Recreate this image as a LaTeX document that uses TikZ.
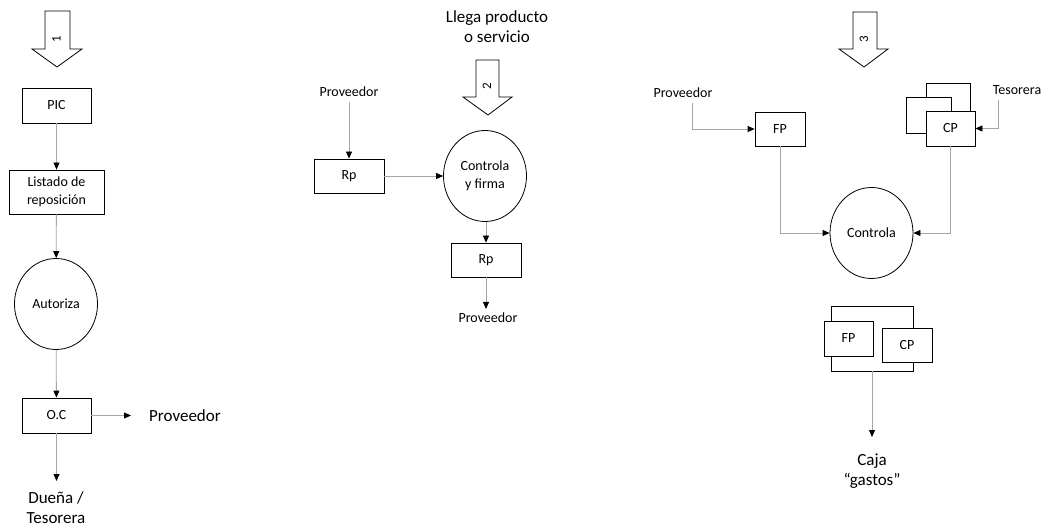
\documentclass[tikz,border=0pt]{standalone}
\usepackage{fontspec}
\setmainfont{Carlito}
\usetikzlibrary{arrows.meta,shapes.geometric}
\tikzset{
  small/.style={font=\fontsize{14}{18}\selectfont},
  large/.style={font=\fontsize{17}{20}\selectfont},
  box/.style={draw=black, line width=0.8pt, fill=white, rectangle, inner sep=0pt, small},
  oval/.style={draw=black, line width=0.8pt, fill=white, ellipse, inner sep=0pt,
    minimum width=83pt, minimum height=91pt, small, align=center},
  flow/.style={draw=black!35, line width=0.8pt,
    -{Triangle[length=7pt,width=6pt,color=black,fill=black]}},
  blockarrow/.style={draw=black, line width=0.8pt, fill=white, line join=miter},
  digit/.style={font=\fontsize{13}{13}\selectfont, rotate=90, inner sep=0pt},
  lbl/.style={inner sep=0pt, align=center}
}
\begin{document}
\begin{tikzpicture}[x=1pt,y=-1pt]
\useasboundingbox (0,0) rectangle (1046,526);

% ---------- Column 1: orden de compra ----------
\draw[blockarrow] (45,11) -- (70,11) -- (70,49) -- (82,49) -- (57,67) -- (32,49) -- (45,49) -- cycle;
\node[digit] (d1) at (56.5,39) {1};

\node[box, minimum width=69pt, minimum height=35pt] (pic) at (56.5,105.5) {PIC};
\node[box, minimum width=95pt, minimum height=44pt, align=center] (list) at (56.5,192) {Listado de\\reposición};
\node[oval] (aut) at (56,304) {Autoriza};
\node[box, minimum width=69pt, minimum height=35pt] (oc) at (56.5,415.5) {O.C};
\node[lbl, large, anchor=west] (prov1) at (149,416) {Proveedor};
\node[lbl, large, anchor=north] (duena) at (56,491) {Dueña /\\Tesorera};
\coordinate (oce) at (131,415.5);
\coordinate (ocs) at (56.5,481);

\draw[flow] (pic) -- (list);
\draw[flow] (list) -- (aut);
\draw[flow] (aut) -- (oc);
\draw[flow] (oc) -- (oce);
\draw[flow] (oc) -- (ocs);

% ---------- Column 2: recepcion ----------
\node[lbl, large] (llega) at (497,27) {Llega producto\\o servicio};
\draw[blockarrow] (476,60) -- (499,60) -- (499,97) -- (512,97) -- (488,115) -- (463,97) -- (476,97) -- cycle;
\node[digit] (d2) at (487,86) {2};

\node[lbl, small] (prov2) at (349,92) {Proveedor};
\node[box, minimum width=70pt, minimum height=34pt] (rp1) at (349,176) {Rp};
\node[oval] (cf) at (485,176) {Controla\\y firma};
\node[box, minimum width=70pt, minimum height=34pt] (rp2) at (486,260) {Rp};
\node[lbl, small] (prov3) at (488,318) {Proveedor};
\coordinate (p2top) at (349,102);
\coordinate (rp2s) at (486,309);

\draw[flow] (p2top) -- (rp1);
\draw[flow] (rp1) -- (cf);
\draw[flow] (cf.south -| rp2.north) -- (rp2);
\draw[flow] (rp2) -- (rp2s);

% ---------- Column 3: pago ----------
\draw[blockarrow] (853,12) -- (877,12) -- (877,49) -- (888,49) -- (864,67) -- (839,49) -- (853,49) -- cycle;
\node[digit] (d3) at (864,39) {3};

\node[lbl, small] (prov4) at (683,93) {Proveedor};
\node[lbl, small] (tes) at (1017,90) {Tesorera};
\node[box, minimum width=50pt, minimum height=34pt] (fp) at (780,129) {FP};

% stacked copies of the comprobante
\node[box, minimum width=44pt, minimum height=50pt] (cpback) at (948,108) {};
\node[box, minimum width=45pt, minimum height=36pt] (cpmid) at (928.5,115) {};
\node[box, minimum width=49pt, minimum height=35pt] (cp) at (950.5,128.5) {CP};

\node[oval] (ctrl) at (871.5,233) {Controla};
\coordinate (p4) at (692,103);
\coordinate (t4) at (998,100);

\draw[flow] (p4) |- (fp);
\draw[flow] (t4) |- (cp);
\draw[flow] (fp.south) |- (ctrl);
\draw[flow] (cp.south) |- (ctrl);

% archivo FP + CP
\node[box, minimum width=82pt, minimum height=65pt] (file) at (872,338.5) {};
\node[box, minimum width=49pt, minimum height=35pt] (fp2) at (848.5,338.5) {FP};
\node[box, minimum width=50pt, minimum height=34pt] (cp2) at (907,345) {CP};
\node[lbl, large, anchor=north] (caja) at (872,454) {Caja\\“gastos”};
\coordinate (files) at (872,437);

\draw[flow] (file) -- (files);
\end{tikzpicture}
\end{document}
